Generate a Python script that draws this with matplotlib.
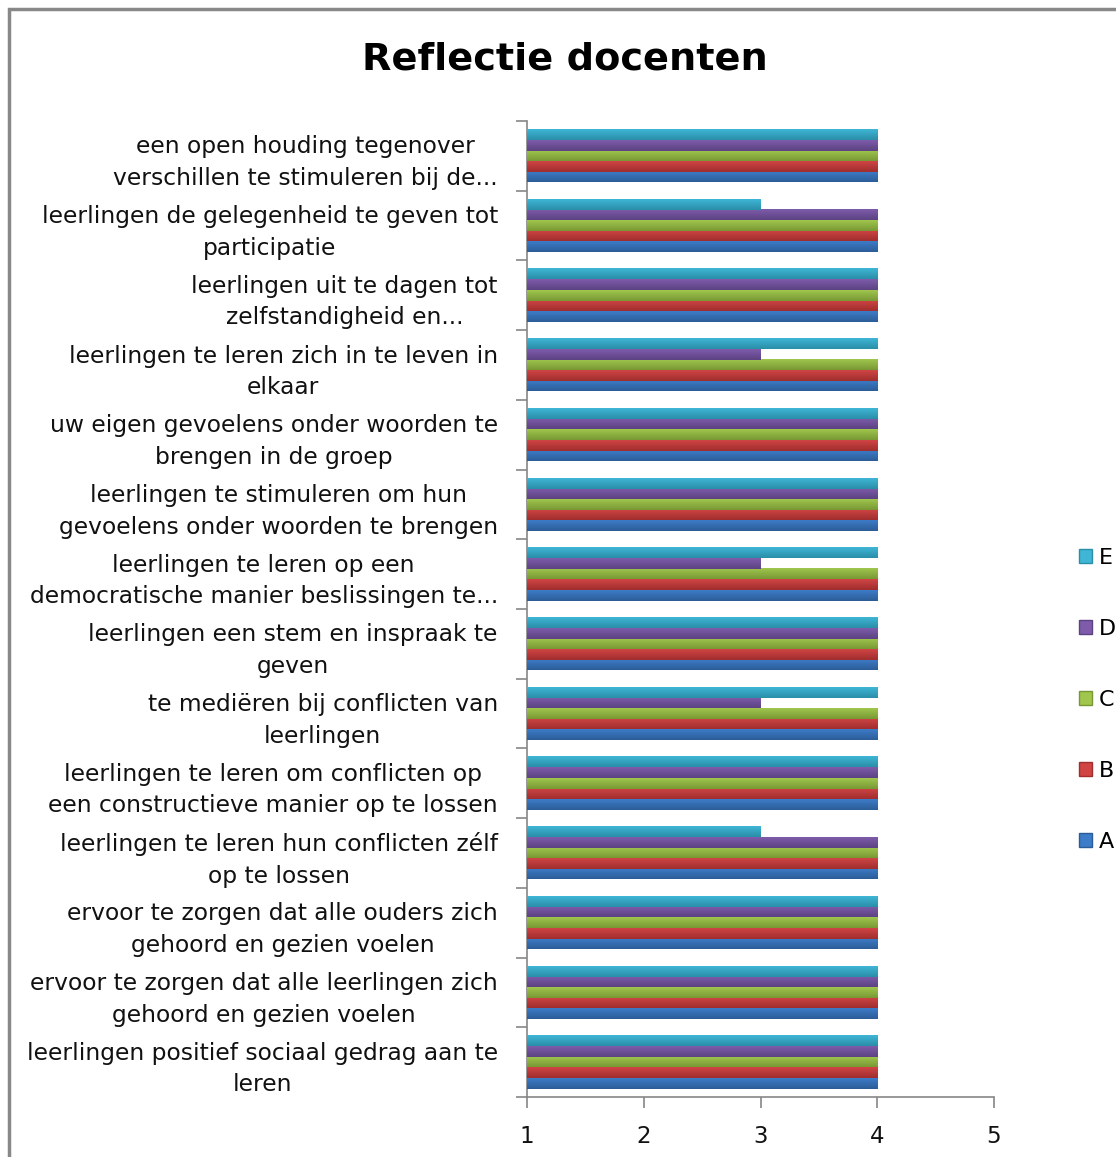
import numpy as np
import matplotlib
matplotlib.use('Agg')
import matplotlib.pyplot as plt
from matplotlib.patches import Rectangle, Patch
from matplotlib.colors import LinearSegmentedColormap


## categories, top to bottom as shown in the chart
categories = [
    "een open houding tegenover\nverschillen te stimuleren bij de...",
    "leerlingen de gelegenheid te geven tot\nparticipatie",
    "leerlingen uit te dagen tot\nzelfstandigheid en...",
    "leerlingen te leren zich in te leven in\nelkaar",
    "uw eigen gevoelens onder woorden te\nbrengen in de groep",
    "leerlingen te stimuleren om hun\ngevoelens onder woorden te brengen",
    "leerlingen te leren op een\ndemocratische manier beslissingen te...",
    "leerlingen een stem en inspraak te\ngeven",
    "te mediëren bij conflicten van\nleerlingen",
    "leerlingen te leren om conflicten op\neen constructieve manier op te lossen",
    "leerlingen te leren hun conflicten zélf\nop te lossen",
    "ervoor te zorgen dat alle ouders zich\ngehoord en gezien voelen",
    "ervoor te zorgen dat alle leerlingen zich\ngehoord en gezien voelen",
    "leerlingen positief sociaal gedrag aan te\nleren",
]

series_names = ["A", "B", "C", "D", "E"]
A = [4, 4, 4, 4, 4, 4, 4, 4, 4, 4, 4, 4, 4, 4]
B = [4, 4, 4, 4, 4, 4, 4, 4, 4, 4, 4, 4, 4, 4]
C = [4, 4, 4, 4, 4, 4, 4, 4, 4, 4, 4, 4, 4, 4]
D = [4, 4, 4, 3, 4, 4, 3, 4, 3, 4, 4, 4, 4, 4]
E = [4, 3, 4, 4, 4, 4, 4, 4, 4, 4, 3, 4, 4, 4]

## (light top, dark bottom) for the excel-ish gradient
colors = {
    "A": ("#3d7cc8", "#2c5c98"),
    "B": ("#d04444", "#a02e2e"),
    "C": ("#a0c64e", "#789834"),
    "D": ("#7e5cab", "#5c4282"),
    "E": ("#3fb6d6", "#2a8ea8"),
}

fig = plt.figure(figsize=(11.16, 11.57), dpi=100)
ax = fig.add_axes([527 / 1116, 60 / 1157, 467 / 1116, 976 / 1157])

n = len(categories)
ypos = np.arange(n)[::-1]  ## first category on top
bh = 0.152
xmin = 1  ## value axis starts at 1, bars grow from there
data = {"A": A, "B": B, "C": C, "D": D, "E": E}

grad = np.linspace(0, 1, 64).reshape(-1, 1)
for i, name in enumerate(series_names):
    off = (i - 2) * bh
    vals = np.array(data[name]) - xmin
    bars = ax.barh(ypos + off, vals, left=xmin, height=bh,
                   color=colors[name][0], linewidth=0, zorder=2)
    cmap = LinearSegmentedColormap.from_list(name, [colors[name][0], colors[name][1]])
    for b in bars:
        x0, y0 = b.get_x(), b.get_y()
        w, h = b.get_width(), b.get_height()
        ax.imshow(grad, extent=(x0, x0 + w, y0, y0 + h), origin='upper',
                  cmap=cmap, aspect='auto', zorder=3)

ax.set_xlim(1, 5)
ax.set_ylim(-0.5, n - 0.5)

ax.set_yticks(ypos)
ax.set_yticklabels(categories, fontsize=16.8, ma='center', linespacing=1.48,
                   color='#111111')
ax.set_yticks(np.arange(n + 1) - 0.5, minor=True)
ax.tick_params(axis='y', which='major', length=0, pad=21)
ax.tick_params(axis='y', which='minor', length=8, color='#868686', width=1.2)
ax.set_xticks([1, 2, 3, 4, 5])
ax.tick_params(axis='x', length=8, color='#868686', width=1.2, labelsize=16.5,
               pad=12, labelcolor='#111111')

for s in ['top', 'right']:
    ax.spines[s].set_visible(False)
for s in ['left', 'bottom']:
    ax.spines[s].set_color('#868686')
    ax.spines[s].set_linewidth(1.2)

fig.text(565 / 1116, 1 - 60 / 1157, "Reflectie docenten", fontsize=27.5,
         fontweight='bold', ha='center', va='center')

handles = [Patch(facecolor=colors[k][0], edgecolor=colors[k][1]) for k in series_names[::-1]]
fig.legend(handles, series_names[::-1], loc='center left',
           bbox_to_anchor=(1070 / 1116, 1 - 700 / 1157), frameon=False,
           fontsize=16, handlelength=0.6, handleheight=0.6, handletextpad=0.3,
           labelspacing=2.3, borderaxespad=0)

## chart frame, cut off on the right and bottom like the screenshot
fig.patches.append(Rectangle((9 / 1116, -0.1), 1.2, 1.1 - 9 / 1157,
                             transform=fig.transFigure, fill=False,
                             edgecolor='#888888', linewidth=2.5))

fig.savefig("out.png", dpi=100)
